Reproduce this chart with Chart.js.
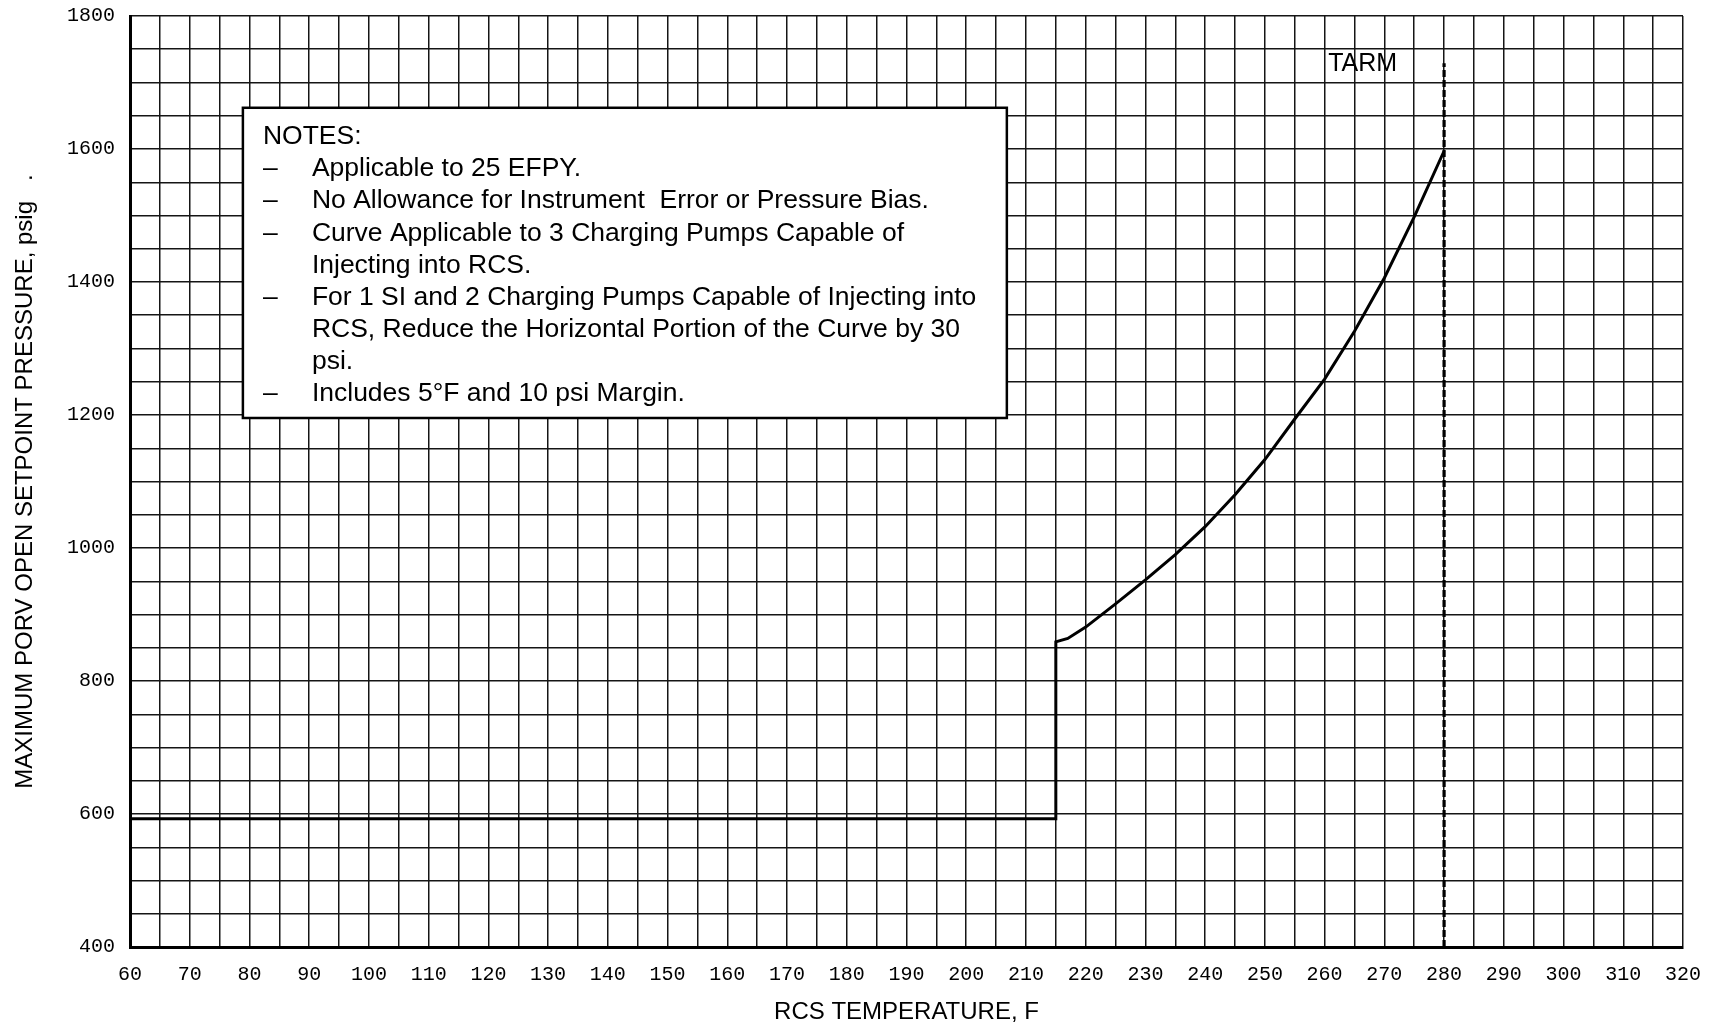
<!DOCTYPE html>
<html>
<head>
<meta charset="utf-8">
<script src="https://cdn.jsdelivr.net/npm/chart.js@4"></script>
<style>
  html, body { margin: 0; padding: 0; background: #ffffff; }
  #wrap { width: 1719px; height: 1027px; }
</style>
</head>
<body>
<div id="wrap"><canvas id="porvChart" width="1719" height="1027"></canvas></div>
<script>
// Maximum PORV open setpoint vs. RCS temperature
const rcsTemperature = [60, 215, 215, 217, 220, 225, 230, 235, 240, 245, 250, 255, 260, 265, 270, 275, 280];
const porvSetpoint   = [593, 593, 859, 864, 881, 916, 952, 990, 1032, 1080, 1133, 1194, 1254, 1326, 1406, 1498, 1597];

// TARM vertical limit
const tarmTemperature = [280, 280];
const tarmPressure    = [400, 1729];

// Labelled ticks (grid runs every 5 F and every 50 psig)
const xTickLabels = [60, 70, 80, 90, 100, 110, 120, 130, 140, 150, 160, 170, 180, 190, 200,
                     210, 220, 230, 240, 250, 260, 270, 280, 290, 300, 310, 320];
const yTickLabels = [400, 600, 800, 1000, 1200, 1400, 1600, 1800];

const noteLines = [
  { dash: false, text: 'NOTES:' },
  { dash: true,  text: 'Applicable to 25 EFPY.' },
  { dash: true,  text: 'No Allowance for Instrument  Error or Pressure Bias.' },
  { dash: true,  text: 'Curve Applicable to 3 Charging Pumps Capable of' },
  { dash: false, text: 'Injecting into RCS.' },
  { dash: true,  text: 'For 1 SI and 2 Charging Pumps Capable of Injecting into' },
  { dash: false, text: 'RCS, Reduce the Horizontal Portion of the Curve by 30' },
  { dash: false, text: 'psi.' },
  { dash: true,  text: 'Includes 5\u00B0F and 10 psi Margin.' }
];

const toPoints = (xs, ys) => xs.map((x, i) => ({ x: x, y: ys[i] }));

const SANS = '"Liberation Sans", Arial, Helvetica, sans-serif';
const MONO = '"Liberation Mono", "Courier New", monospace';

// Notes box and TARM caption, placed in data units
const notesPlugin = {
  id: 'notesBox',
  afterDraw(chart) {
    const { ctx, scales: { x, y } } = chart;
    const left = x.getPixelForValue(78.9), right = x.getPixelForValue(206.8);
    const top = y.getPixelForValue(1662), bottom = y.getPixelForValue(1195.5);
    ctx.save();
    ctx.fillStyle = '#ffffff';
    ctx.fillRect(left, top, right - left, bottom - top);
    ctx.strokeStyle = '#000000';
    ctx.lineWidth = 2.5;
    ctx.strokeRect(left, top, right - left, bottom - top);
    ctx.fillStyle = '#000000';
    ctx.font = '26.5px ' + SANS;
    ctx.textBaseline = 'alphabetic';
    ctx.textAlign = 'left';
    noteLines.forEach((ln, i) => {
      const by = top + 36.5 + i * 32.1;
      if (i === 0) {
        ctx.fillText(ln.text, left + 20, by);
        return;
      }
      if (ln.dash) ctx.fillText('\u2013', left + 20, by);
      ctx.fillText(ln.text, left + 69, by);
    });
    // TARM caption
    ctx.font = '25px ' + SANS;
    ctx.fillText('TARM', x.getPixelForValue(260.6), y.getPixelForValue(1718));
    ctx.restore();
  }
};

new Chart(document.getElementById('porvChart'), {
  type: 'scatter',
  data: {
    datasets: [
      {
        label: 'Maximum PORV setpoint',
        data: toPoints(rcsTemperature, porvSetpoint),
        showLine: true,
        borderColor: '#000000',
        borderWidth: 3,
        pointRadius: 0,
        tension: 0,
        fill: false
      },
      {
        label: 'TARM',
        data: toPoints(tarmTemperature, tarmPressure),
        showLine: true,
        borderColor: '#000000',
        borderWidth: 3.2,
        borderDash: [7, 3],
        pointRadius: 0,
        fill: false
      }
    ]
  },
  options: {
    responsive: false,
    devicePixelRatio: 1,
    animation: false,
    layout: { padding: { left: 0, top: 16, right: 36, bottom: 0 } },
    plugins: {
      legend: { display: false },
      tooltip: { enabled: false },
      title: { display: false }
    },
    scales: {
      x: {
        type: 'linear',
        min: 60,
        max: 320,
        afterFit(scale) { scale.height = 80; scale.paddingLeft = 0; scale.paddingRight = 0; },
        ticks: {
          stepSize: 5,
          autoSkip: false,
          maxRotation: 0,
          padding: 16,
          color: '#000000',
          font: { family: MONO, size: 20 },
          callback: (v) => (xTickLabels.includes(v) ? String(v) : '')
        },
        grid: { color: '#151515', lineWidth: 1.5, drawTicks: false },
        border: { display: true, color: '#000000', width: 3 },
        title: {
          display: true,
          text: 'RCS TEMPERATURE, F',
          color: '#000000',
          font: { family: SANS, size: 24 },
          padding: { top: 0, bottom: 0 }
        }
      },
      y: {
        type: 'linear',
        min: 400,
        max: 1800,
        afterFit(scale) { scale.width = 130; scale.paddingTop = 0; scale.paddingBottom = 0; },
        ticks: {
          stepSize: 50,
          autoSkip: false,
          padding: 15,
          color: '#000000',
          font: { family: MONO, size: 20 },
          callback: (v) => (yTickLabels.includes(v) ? String(v) : '')
        },
        grid: { color: '#151515', lineWidth: 1.5, drawTicks: false },
        border: { display: true, color: '#000000', width: 3 },
        title: {
          display: true,
          text: 'MAXIMUM PORV OPEN SETPOINT PRESSURE, psig   .',
          color: '#000000',
          font: { family: SANS, size: 24 },
          padding: { top: 11, bottom: 0 }
        }
      }
    }
  },
  plugins: [notesPlugin]
});
</script>
</body>
</html>
